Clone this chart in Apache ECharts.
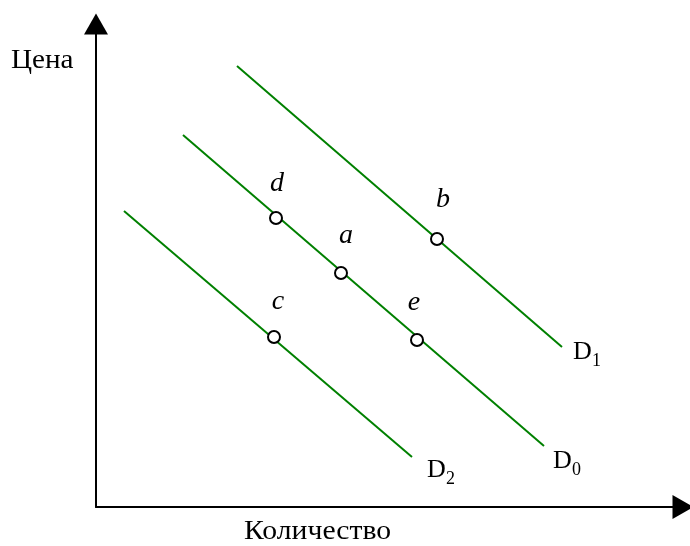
<!DOCTYPE html>
<html>
<head>
<meta charset="utf-8">
<script src="https://cdn.jsdelivr.net/npm/echarts@6/dist/echarts.min.js"></script>
<style>
  html, body { margin: 0; padding: 0; background: #fff; }
  #chart { width: 690px; height: 546px; }
</style>
</head>
<body>
<div id="chart"></div>
<script>
// demand curves, [x, y] in axis units (origin at the axes' corner)
const curveNames = ['D1', 'D0', 'D2'];
const curveD1 = [[141, 441], [466, 160]];
const curveD0 = [[87, 372], [448, 61]];
const curveD2 = [[28, 296], [316, 50]];

// marked points on the curves
const pointNames = ['d', 'a', 'b', 'c', 'e'];
const pointValues = [[180, 289], [245, 234], [341, 268], [178, 170], [321, 167]];

const xTitle = 'Количество';
const yTitle = 'Цена';

const serif = '"Liberation Serif", "Times New Roman", serif';
const green = '#008000';

const pointLabelOffset = {
    d: [1, -34], a: [5, -37], b: [6, -39], c: [4, -35], e: [-3, -37]
};
const curveLabelOffset = { D1: [25, 5], D0: [23, 15], D2: [29, 13] };

const chart = echarts.init(document.getElementById('chart'));

const curves = [curveD1, curveD0, curveD2];

const curveSeries = curves.map((pts, i) => ({
    type: 'line',
    name: curveNames[i],
    data: pts,
    symbol: 'none',
    lineStyle: { color: green, width: 2 },
    silent: true,
    z: 2
}));

// curve names sit just past the lower end of each curve
const curveLabelSeries = {
    type: 'scatter',
    data: curves.map((pts, i) => ({
        value: pts[pts.length - 1],
        name: curveNames[i],
        label: {
            offset: curveLabelOffset[curveNames[i]],
            formatter: '{m|D}{s|' + curveNames[i].slice(1) + '}'
        }
    })),
    symbolSize: 1,
    itemStyle: { color: 'rgba(0,0,0,0)', opacity: 1 },
    label: {
        show: true,
        position: 'inside',
        rich: {
            m: { fontFamily: serif, fontSize: 26, lineHeight: 26, color: '#000', verticalAlign: 'top' },
            s: { fontFamily: serif, fontSize: 18, lineHeight: 18, color: '#000', verticalAlign: 'top', padding: [13, 0, 0, 0] }
        }
    },
    silent: true,
    z: 4
};

chart.setOption({
    animation: false,
    grid: { left: 96, top: 24, width: 587, height: 483 },
    xAxis: {
        type: 'value', min: 0, max: 587,
        axisLine: {
            show: true, onZero: false,
            symbol: ['none', 'triangle'], symbolSize: [24, 21],
            lineStyle: { color: '#000', width: 2 }
        },
        axisTick: { show: false }, axisLabel: { show: false }, splitLine: { show: false }
    },
    yAxis: {
        type: 'value', min: 0, max: 483,
        axisLine: {
            show: true, onZero: false,
            symbol: ['none', 'triangle'], symbolSize: [24, 21],
            lineStyle: { color: '#000', width: 2 }
        },
        axisTick: { show: false }, axisLabel: { show: false }, splitLine: { show: false }
    },
    graphic: [
        {
            type: 'text', x: 11, y: 61, scaleX: 1.08,
            style: { text: yTitle, font: '27px ' + serif, fill: '#000', verticalAlign: 'middle' }
        },
        {
            type: 'text', x: 244, y: 532, scaleX: 1.1,
            style: { text: xTitle, font: '27px ' + serif, fill: '#000', verticalAlign: 'middle' }
        }
    ],
    series: curveSeries.concat([curveLabelSeries, {
        type: 'scatter',
        data: pointValues.map((p, i) => ({
            value: p,
            name: pointNames[i],
            label: { offset: pointLabelOffset[pointNames[i]] }
        })),
        symbol: 'circle',
        symbolSize: 12,
        itemStyle: { color: '#fff', borderColor: '#000', borderWidth: 2, opacity: 1 },
        label: {
            show: true, position: 'inside', formatter: '{b}',
            fontFamily: serif, fontStyle: 'italic', fontSize: 28, color: '#000'
        },
        silent: true,
        z: 3
    }])
});
</script>
</body>
</html>
